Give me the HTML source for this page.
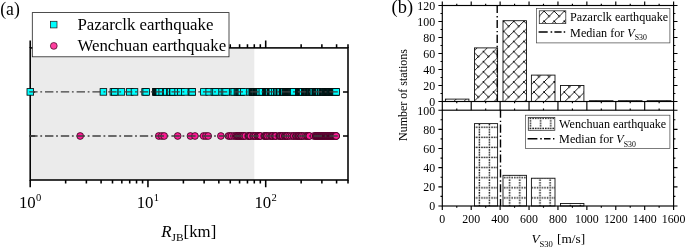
<!DOCTYPE html>
<html lang="en"><head><meta charset="utf-8"><title>Figure</title>
<style>html,body{margin:0;padding:0;background:#fff}body{width:685px;height:248px;overflow:hidden}</style>
</head><body>
<svg width="685" height="248" viewBox="0 0 685 248" style="display:block">
<rect x="30.2" y="47.9" width="224.09" height="132.1" fill="#ebebeb"/>
<rect x="30.2" y="47.9" width="317.8" height="132.1" fill="none" stroke="#000" stroke-width="1.55"/>
<path d="M30.20 180.0 v7.3 M30.20 47.9 v-7.3 M65.65 180.0 v3.6 M65.65 47.9 v-3.6 M86.38 180.0 v3.6 M86.38 47.9 v-3.6 M101.09 180.0 v3.6 M101.09 47.9 v-3.6 M112.50 180.0 v3.6 M112.50 47.9 v-3.6 M121.83 180.0 v3.6 M121.83 47.9 v-3.6 M129.71 180.0 v3.6 M129.71 47.9 v-3.6 M136.54 180.0 v3.6 M136.54 47.9 v-3.6 M142.56 180.0 v3.6 M142.56 47.9 v-3.6 M147.95 180.0 v7.3 M147.95 47.9 v-7.3 M183.39 180.0 v3.6 M183.39 47.9 v-3.6 M204.13 180.0 v3.6 M204.13 47.9 v-3.6 M218.84 180.0 v3.6 M218.84 47.9 v-3.6 M230.25 180.0 v3.6 M230.25 47.9 v-3.6 M239.57 180.0 v3.6 M239.57 47.9 v-3.6 M247.46 180.0 v3.6 M247.46 47.9 v-3.6 M254.29 180.0 v3.6 M254.29 47.9 v-3.6 M260.31 180.0 v3.6 M260.31 47.9 v-3.6 M265.70 180.0 v7.3 M265.70 47.9 v-7.3 M301.14 180.0 v3.6 M301.14 47.9 v-3.6 M321.88 180.0 v3.6 M321.88 47.9 v-3.6 M336.59 180.0 v3.6 M336.59 47.9 v-3.6 M348.00 180.0 v3.6 M348.00 47.9 v-3.6 M348.0 91.9 h-5 M30.2 91.9 h5 M348.0 136.0 h-5 M30.2 136.0 h5" stroke="#000" stroke-width="1.55" fill="none"/>
<g fill="#00ffff" stroke="#000" stroke-width="0.8"><rect x="27.00" y="88.60" width="6.6" height="6.6"/><rect x="100.10" y="88.60" width="6.6" height="6.6"/><rect x="110.10" y="88.60" width="6.6" height="6.6"/><rect x="111.40" y="88.60" width="6.6" height="6.6"/><rect x="118.10" y="88.60" width="6.6" height="6.6"/><rect x="126.40" y="88.60" width="6.6" height="6.6"/><rect x="131.20" y="88.60" width="6.6" height="6.6"/><rect x="141.80" y="88.60" width="6.6" height="6.6"/><rect x="142.90" y="88.60" width="6.6" height="6.6"/><rect x="152.50" y="88.60" width="6.6" height="6.6"/><rect x="153.00" y="88.60" width="6.6" height="6.6"/><rect x="153.50" y="88.60" width="6.6" height="6.6"/><rect x="154.00" y="88.60" width="6.6" height="6.6"/><rect x="154.50" y="88.60" width="6.6" height="6.6"/><rect x="155.00" y="88.60" width="6.6" height="6.6"/><rect x="155.50" y="88.60" width="6.6" height="6.6"/><rect x="156.00" y="88.60" width="6.6" height="6.6"/><rect x="158.90" y="88.60" width="6.6" height="6.6"/><rect x="162.60" y="88.60" width="6.6" height="6.6"/><rect x="163.60" y="88.60" width="6.6" height="6.6"/><rect x="166.60" y="88.60" width="6.6" height="6.6"/><rect x="167.30" y="88.60" width="6.6" height="6.6"/><rect x="169.40" y="88.60" width="6.6" height="6.6"/><rect x="169.90" y="88.60" width="6.6" height="6.6"/><rect x="174.80" y="88.60" width="6.6" height="6.6"/><rect x="177.60" y="88.60" width="6.6" height="6.6"/><rect x="181.60" y="88.60" width="6.6" height="6.6"/><rect x="188.20" y="88.60" width="6.6" height="6.6"/><rect x="189.00" y="88.60" width="6.6" height="6.6"/><rect x="200.60" y="88.60" width="6.6" height="6.6"/><rect x="205.90" y="88.60" width="6.6" height="6.6"/><rect x="211.10" y="88.60" width="6.6" height="6.6"/><rect x="212.70" y="88.60" width="6.6" height="6.6"/><rect x="218.80" y="88.60" width="6.6" height="6.6"/><rect x="221.20" y="88.60" width="6.6" height="6.6"/><rect x="222.80" y="88.60" width="6.6" height="6.6"/><rect x="229.30" y="88.60" width="6.6" height="6.6"/><rect x="230.90" y="88.60" width="6.6" height="6.6"/><rect x="234.10" y="88.60" width="6.6" height="6.6"/><rect x="234.90" y="88.60" width="6.6" height="6.6"/><rect x="235.70" y="88.60" width="6.6" height="6.6"/><rect x="236.50" y="88.60" width="6.6" height="6.6"/><rect x="237.30" y="88.60" width="6.6" height="6.6"/><rect x="238.10" y="88.60" width="6.6" height="6.6"/><rect x="240.60" y="88.60" width="6.6" height="6.6"/><rect x="246.80" y="88.60" width="6.6" height="6.6"/><rect x="248.96" y="88.60" width="6.6" height="6.6"/><rect x="249.32" y="88.60" width="6.6" height="6.6"/><rect x="249.68" y="88.60" width="6.6" height="6.6"/><rect x="250.04" y="88.60" width="6.6" height="6.6"/><rect x="250.40" y="88.60" width="6.6" height="6.6"/><rect x="250.76" y="88.60" width="6.6" height="6.6"/><rect x="251.12" y="88.60" width="6.6" height="6.6"/><rect x="251.48" y="88.60" width="6.6" height="6.6"/><rect x="251.84" y="88.60" width="6.6" height="6.6"/><rect x="252.20" y="88.60" width="6.6" height="6.6"/><rect x="252.92" y="88.60" width="6.6" height="6.6"/><rect x="253.28" y="88.60" width="6.6" height="6.6"/><rect x="253.64" y="88.60" width="6.6" height="6.6"/><rect x="254.00" y="88.60" width="6.6" height="6.6"/><rect x="254.36" y="88.60" width="6.6" height="6.6"/><rect x="254.72" y="88.60" width="6.6" height="6.6"/><rect x="255.08" y="88.60" width="6.6" height="6.6"/><rect x="255.44" y="88.60" width="6.6" height="6.6"/><rect x="256.52" y="88.60" width="6.6" height="6.6"/><rect x="256.88" y="88.60" width="6.6" height="6.6"/><rect x="259.04" y="88.60" width="6.6" height="6.6"/><rect x="262.64" y="88.60" width="6.6" height="6.6"/><rect x="263.00" y="88.60" width="6.6" height="6.6"/><rect x="263.36" y="88.60" width="6.6" height="6.6"/><rect x="263.72" y="88.60" width="6.6" height="6.6"/><rect x="264.08" y="88.60" width="6.6" height="6.6"/><rect x="264.44" y="88.60" width="6.6" height="6.6"/><rect x="264.80" y="88.60" width="6.6" height="6.6"/><rect x="265.16" y="88.60" width="6.6" height="6.6"/><rect x="265.52" y="88.60" width="6.6" height="6.6"/><rect x="265.88" y="88.60" width="6.6" height="6.6"/><rect x="267.32" y="88.60" width="6.6" height="6.6"/><rect x="267.68" y="88.60" width="6.6" height="6.6"/><rect x="268.04" y="88.60" width="6.6" height="6.6"/><rect x="268.40" y="88.60" width="6.6" height="6.6"/><rect x="268.76" y="88.60" width="6.6" height="6.6"/><rect x="269.12" y="88.60" width="6.6" height="6.6"/><rect x="271.64" y="88.60" width="6.6" height="6.6"/><rect x="273.44" y="88.60" width="6.6" height="6.6"/><rect x="273.80" y="88.60" width="6.6" height="6.6"/><rect x="274.16" y="88.60" width="6.6" height="6.6"/><rect x="275.96" y="88.60" width="6.6" height="6.6"/><rect x="276.32" y="88.60" width="6.6" height="6.6"/><rect x="276.68" y="88.60" width="6.6" height="6.6"/><rect x="277.04" y="88.60" width="6.6" height="6.6"/><rect x="279.20" y="88.60" width="6.6" height="6.6"/><rect x="279.56" y="88.60" width="6.6" height="6.6"/><rect x="279.92" y="88.60" width="6.6" height="6.6"/><rect x="280.28" y="88.60" width="6.6" height="6.6"/><rect x="280.64" y="88.60" width="6.6" height="6.6"/><rect x="281.00" y="88.60" width="6.6" height="6.6"/><rect x="282.44" y="88.60" width="6.6" height="6.6"/><rect x="282.80" y="88.60" width="6.6" height="6.6"/><rect x="283.16" y="88.60" width="6.6" height="6.6"/><rect x="283.52" y="88.60" width="6.6" height="6.6"/><rect x="283.88" y="88.60" width="6.6" height="6.6"/><rect x="284.60" y="88.60" width="6.6" height="6.6"/><rect x="284.96" y="88.60" width="6.6" height="6.6"/><rect x="285.32" y="88.60" width="6.6" height="6.6"/><rect x="285.68" y="88.60" width="6.6" height="6.6"/><rect x="286.04" y="88.60" width="6.6" height="6.6"/><rect x="286.40" y="88.60" width="6.6" height="6.6"/><rect x="286.76" y="88.60" width="6.6" height="6.6"/><rect x="287.12" y="88.60" width="6.6" height="6.6"/><rect x="287.48" y="88.60" width="6.6" height="6.6"/><rect x="287.84" y="88.60" width="6.6" height="6.6"/><rect x="288.20" y="88.60" width="6.6" height="6.6"/><rect x="288.56" y="88.60" width="6.6" height="6.6"/><rect x="289.64" y="88.60" width="6.6" height="6.6"/><rect x="290.00" y="88.60" width="6.6" height="6.6"/><rect x="290.36" y="88.60" width="6.6" height="6.6"/><rect x="295.40" y="88.60" width="6.6" height="6.6"/><rect x="295.76" y="88.60" width="6.6" height="6.6"/><rect x="296.12" y="88.60" width="6.6" height="6.6"/><rect x="296.48" y="88.60" width="6.6" height="6.6"/><rect x="296.84" y="88.60" width="6.6" height="6.6"/><rect x="297.20" y="88.60" width="6.6" height="6.6"/><rect x="297.56" y="88.60" width="6.6" height="6.6"/><rect x="297.92" y="88.60" width="6.6" height="6.6"/><rect x="298.28" y="88.60" width="6.6" height="6.6"/><rect x="298.64" y="88.60" width="6.6" height="6.6"/><rect x="299.00" y="88.60" width="6.6" height="6.6"/><rect x="299.36" y="88.60" width="6.6" height="6.6"/><rect x="301.52" y="88.60" width="6.6" height="6.6"/><rect x="301.88" y="88.60" width="6.6" height="6.6"/><rect x="302.24" y="88.60" width="6.6" height="6.6"/><rect x="302.60" y="88.60" width="6.6" height="6.6"/><rect x="302.96" y="88.60" width="6.6" height="6.6"/><rect x="303.32" y="88.60" width="6.6" height="6.6"/><rect x="303.68" y="88.60" width="6.6" height="6.6"/><rect x="304.04" y="88.60" width="6.6" height="6.6"/><rect x="304.76" y="88.60" width="6.6" height="6.6"/><rect x="305.12" y="88.60" width="6.6" height="6.6"/><rect x="305.48" y="88.60" width="6.6" height="6.6"/><rect x="305.84" y="88.60" width="6.6" height="6.6"/><rect x="306.20" y="88.60" width="6.6" height="6.6"/><rect x="306.56" y="88.60" width="6.6" height="6.6"/><rect x="306.92" y="88.60" width="6.6" height="6.6"/><rect x="307.28" y="88.60" width="6.6" height="6.6"/><rect x="308.00" y="88.60" width="6.6" height="6.6"/><rect x="308.36" y="88.60" width="6.6" height="6.6"/><rect x="308.72" y="88.60" width="6.6" height="6.6"/><rect x="309.08" y="88.60" width="6.6" height="6.6"/><rect x="309.44" y="88.60" width="6.6" height="6.6"/><rect x="309.80" y="88.60" width="6.6" height="6.6"/><rect x="310.16" y="88.60" width="6.6" height="6.6"/><rect x="311.96" y="88.60" width="6.6" height="6.6"/><rect x="312.32" y="88.60" width="6.6" height="6.6"/><rect x="312.68" y="88.60" width="6.6" height="6.6"/><rect x="313.04" y="88.60" width="6.6" height="6.6"/><rect x="313.40" y="88.60" width="6.6" height="6.6"/><rect x="314.12" y="88.60" width="6.6" height="6.6"/><rect x="314.48" y="88.60" width="6.6" height="6.6"/><rect x="314.84" y="88.60" width="6.6" height="6.6"/><rect x="315.20" y="88.60" width="6.6" height="6.6"/><rect x="315.56" y="88.60" width="6.6" height="6.6"/><rect x="315.92" y="88.60" width="6.6" height="6.6"/><rect x="317.36" y="88.60" width="6.6" height="6.6"/><rect x="317.72" y="88.60" width="6.6" height="6.6"/><rect x="318.08" y="88.60" width="6.6" height="6.6"/><rect x="319.52" y="88.60" width="6.6" height="6.6"/><rect x="319.88" y="88.60" width="6.6" height="6.6"/><rect x="320.24" y="88.60" width="6.6" height="6.6"/><rect x="320.60" y="88.60" width="6.6" height="6.6"/><rect x="320.96" y="88.60" width="6.6" height="6.6"/><rect x="321.32" y="88.60" width="6.6" height="6.6"/><rect x="321.68" y="88.60" width="6.6" height="6.6"/><rect x="322.40" y="88.60" width="6.6" height="6.6"/><rect x="322.76" y="88.60" width="6.6" height="6.6"/><rect x="323.12" y="88.60" width="6.6" height="6.6"/><rect x="323.48" y="88.60" width="6.6" height="6.6"/><rect x="323.84" y="88.60" width="6.6" height="6.6"/><rect x="324.20" y="88.60" width="6.6" height="6.6"/><rect x="324.56" y="88.60" width="6.6" height="6.6"/><rect x="324.92" y="88.60" width="6.6" height="6.6"/><rect x="325.28" y="88.60" width="6.6" height="6.6"/><rect x="325.64" y="88.60" width="6.6" height="6.6"/><rect x="326.00" y="88.60" width="6.6" height="6.6"/><rect x="326.36" y="88.60" width="6.6" height="6.6"/><rect x="326.72" y="88.60" width="6.6" height="6.6"/><rect x="327.08" y="88.60" width="6.6" height="6.6"/><rect x="327.44" y="88.60" width="6.6" height="6.6"/><rect x="328.16" y="88.60" width="6.6" height="6.6"/><rect x="328.52" y="88.60" width="6.6" height="6.6"/><rect x="328.88" y="88.60" width="6.6" height="6.6"/><rect x="329.24" y="88.60" width="6.6" height="6.6"/><rect x="329.60" y="88.60" width="6.6" height="6.6"/><rect x="329.96" y="88.60" width="6.6" height="6.6"/><rect x="330.32" y="88.60" width="6.6" height="6.6"/><rect x="330.68" y="88.60" width="6.6" height="6.6"/><rect x="331.04" y="88.60" width="6.6" height="6.6"/><rect x="331.40" y="88.60" width="6.6" height="6.6"/><rect x="331.76" y="88.60" width="6.6" height="6.6"/><rect x="332.12" y="88.60" width="6.6" height="6.6"/><rect x="332.48" y="88.60" width="6.6" height="6.6"/><rect x="332.80" y="88.60" width="6.6" height="6.6"/></g>
<g fill="#ff1a94" stroke="#22000f" stroke-width="0.75"><circle cx="80.18" cy="136.0" r="3.4"/><circle cx="158.78" cy="136.0" r="3.4"/><circle cx="161.78" cy="136.0" r="3.4"/><circle cx="164.18" cy="136.0" r="3.4"/><circle cx="177.68" cy="136.0" r="3.4"/><circle cx="190.47" cy="136.0" r="3.4"/><circle cx="194.97" cy="136.0" r="3.4"/><circle cx="203.58" cy="136.0" r="3.4"/><circle cx="205.97" cy="136.0" r="3.4"/><circle cx="208.18" cy="136.0" r="3.4"/><circle cx="220.88" cy="136.0" r="3.4"/><circle cx="228.38" cy="136.0" r="3.4"/><circle cx="229.97" cy="136.0" r="3.4"/><circle cx="231.58" cy="136.0" r="3.4"/><circle cx="233.97" cy="136.0" r="3.4"/><circle cx="235.68" cy="136.0" r="3.4"/><circle cx="236.78" cy="136.0" r="3.4"/><circle cx="237.38" cy="136.0" r="3.4"/><circle cx="237.97" cy="136.0" r="3.4"/><circle cx="238.57" cy="136.0" r="3.4"/><circle cx="239.17" cy="136.0" r="3.4"/><circle cx="239.77" cy="136.0" r="3.4"/><circle cx="240.37" cy="136.0" r="3.4"/><circle cx="240.97" cy="136.0" r="3.4"/><circle cx="241.57" cy="136.0" r="3.4"/><circle cx="242.17" cy="136.0" r="3.4"/><circle cx="242.77" cy="136.0" r="3.4"/><circle cx="243.37" cy="136.0" r="3.4"/><circle cx="243.97" cy="136.0" r="3.4"/><circle cx="245.28" cy="136.0" r="3.4"/><circle cx="248.18" cy="136.0" r="3.4"/><circle cx="248.78" cy="136.0" r="3.4"/><circle cx="249.38" cy="136.0" r="3.4"/><circle cx="249.97" cy="136.0" r="3.4"/><circle cx="250.57" cy="136.0" r="3.4"/><circle cx="253.04" cy="136.0" r="3.4"/><circle cx="253.66" cy="136.0" r="3.4"/><circle cx="254.90" cy="136.0" r="3.4"/><circle cx="255.52" cy="136.0" r="3.4"/><circle cx="257.38" cy="136.0" r="3.4"/><circle cx="258.00" cy="136.0" r="3.4"/><circle cx="258.62" cy="136.0" r="3.4"/><circle cx="259.24" cy="136.0" r="3.4"/><circle cx="259.86" cy="136.0" r="3.4"/><circle cx="260.48" cy="136.0" r="3.4"/><circle cx="264.20" cy="136.0" r="3.4"/><circle cx="264.82" cy="136.0" r="3.4"/><circle cx="265.44" cy="136.0" r="3.4"/><circle cx="266.06" cy="136.0" r="3.4"/><circle cx="266.68" cy="136.0" r="3.4"/><circle cx="267.30" cy="136.0" r="3.4"/><circle cx="269.16" cy="136.0" r="3.4"/><circle cx="271.02" cy="136.0" r="3.4"/><circle cx="271.64" cy="136.0" r="3.4"/><circle cx="272.26" cy="136.0" r="3.4"/><circle cx="272.88" cy="136.0" r="3.4"/><circle cx="274.74" cy="136.0" r="3.4"/><circle cx="275.36" cy="136.0" r="3.4"/><circle cx="275.98" cy="136.0" r="3.4"/><circle cx="279.08" cy="136.0" r="3.4"/><circle cx="279.70" cy="136.0" r="3.4"/><circle cx="280.32" cy="136.0" r="3.4"/><circle cx="280.94" cy="136.0" r="3.4"/><circle cx="282.18" cy="136.0" r="3.4"/><circle cx="282.80" cy="136.0" r="3.4"/><circle cx="284.66" cy="136.0" r="3.4"/><circle cx="285.28" cy="136.0" r="3.4"/><circle cx="285.90" cy="136.0" r="3.4"/><circle cx="286.52" cy="136.0" r="3.4"/><circle cx="287.14" cy="136.0" r="3.4"/><circle cx="287.76" cy="136.0" r="3.4"/><circle cx="289.62" cy="136.0" r="3.4"/><circle cx="291.48" cy="136.0" r="3.4"/><circle cx="293.34" cy="136.0" r="3.4"/><circle cx="293.96" cy="136.0" r="3.4"/><circle cx="295.82" cy="136.0" r="3.4"/><circle cx="296.44" cy="136.0" r="3.4"/><circle cx="297.68" cy="136.0" r="3.4"/><circle cx="298.30" cy="136.0" r="3.4"/><circle cx="298.92" cy="136.0" r="3.4"/><circle cx="299.54" cy="136.0" r="3.4"/><circle cx="300.78" cy="136.0" r="3.4"/><circle cx="301.40" cy="136.0" r="3.4"/><circle cx="302.02" cy="136.0" r="3.4"/><circle cx="303.88" cy="136.0" r="3.4"/><circle cx="305.74" cy="136.0" r="3.4"/><circle cx="306.98" cy="136.0" r="3.4"/><circle cx="307.60" cy="136.0" r="3.4"/><circle cx="308.22" cy="136.0" r="3.4"/><circle cx="308.84" cy="136.0" r="3.4"/><circle cx="309.46" cy="136.0" r="3.4"/><circle cx="313.80" cy="136.0" r="3.4"/><circle cx="315.66" cy="136.0" r="3.4"/><circle cx="315.77" cy="136.0" r="3.4"/><circle cx="316.17" cy="136.0" r="3.4"/><circle cx="316.57" cy="136.0" r="3.4"/><circle cx="316.97" cy="136.0" r="3.4"/><circle cx="317.37" cy="136.0" r="3.4"/><circle cx="317.77" cy="136.0" r="3.4"/><circle cx="318.17" cy="136.0" r="3.4"/><circle cx="318.57" cy="136.0" r="3.4"/><circle cx="318.97" cy="136.0" r="3.4"/><circle cx="319.37" cy="136.0" r="3.4"/><circle cx="319.77" cy="136.0" r="3.4"/><circle cx="320.17" cy="136.0" r="3.4"/><circle cx="320.57" cy="136.0" r="3.4"/><circle cx="320.97" cy="136.0" r="3.4"/><circle cx="321.37" cy="136.0" r="3.4"/><circle cx="321.77" cy="136.0" r="3.4"/><circle cx="322.17" cy="136.0" r="3.4"/><circle cx="322.57" cy="136.0" r="3.4"/><circle cx="322.97" cy="136.0" r="3.4"/><circle cx="323.37" cy="136.0" r="3.4"/><circle cx="323.77" cy="136.0" r="3.4"/><circle cx="324.17" cy="136.0" r="3.4"/><circle cx="324.57" cy="136.0" r="3.4"/><circle cx="324.97" cy="136.0" r="3.4"/><circle cx="325.37" cy="136.0" r="3.4"/><circle cx="325.77" cy="136.0" r="3.4"/><circle cx="326.17" cy="136.0" r="3.4"/><circle cx="326.57" cy="136.0" r="3.4"/><circle cx="326.97" cy="136.0" r="3.4"/><circle cx="327.37" cy="136.0" r="3.4"/><circle cx="327.77" cy="136.0" r="3.4"/><circle cx="328.17" cy="136.0" r="3.4"/><circle cx="328.57" cy="136.0" r="3.4"/><circle cx="328.97" cy="136.0" r="3.4"/><circle cx="329.37" cy="136.0" r="3.4"/><circle cx="329.77" cy="136.0" r="3.4"/><circle cx="330.17" cy="136.0" r="3.4"/><circle cx="330.57" cy="136.0" r="3.4"/><circle cx="330.97" cy="136.0" r="3.4"/><circle cx="331.37" cy="136.0" r="3.4"/><circle cx="331.77" cy="136.0" r="3.4"/><circle cx="332.17" cy="136.0" r="3.4"/><circle cx="332.57" cy="136.0" r="3.4"/><circle cx="332.97" cy="136.0" r="3.4"/><circle cx="333.37" cy="136.0" r="3.4"/><circle cx="333.77" cy="136.0" r="3.4"/><circle cx="334.17" cy="136.0" r="3.4"/><circle cx="334.57" cy="136.0" r="3.4"/><circle cx="334.97" cy="136.0" r="3.4"/><circle cx="335.37" cy="136.0" r="3.4"/><circle cx="335.77" cy="136.0" r="3.4"/><circle cx="336.17" cy="136.0" r="3.4"/><circle cx="336.17" cy="136.0" r="3.4"/></g>
<line x1="29.2" y1="91.9" x2="339.2" y2="91.9" stroke="#404040" stroke-width="1.4" stroke-dasharray="8.4 2.7 1.8 2.9"/>
<line x1="29.2" y1="136.0" x2="339.2" y2="136.0" stroke="#404040" stroke-width="1.4" stroke-dasharray="8.4 2.7 1.8 2.9"/>
<text x="35.70" y="208.1" text-anchor="end" font-family="Liberation Serif, Times New Roman, serif" font-size="16.8">10</text>
<text x="36.10" y="201.4" font-family="Liberation Serif, Times New Roman, serif" font-size="10.6">0</text>
<text x="153.45" y="208.1" text-anchor="end" font-family="Liberation Serif, Times New Roman, serif" font-size="16.8">10</text>
<text x="153.85" y="201.4" font-family="Liberation Serif, Times New Roman, serif" font-size="10.6">1</text>
<text x="271.20" y="208.1" text-anchor="end" font-family="Liberation Serif, Times New Roman, serif" font-size="16.8">10</text>
<text x="271.60" y="201.4" font-family="Liberation Serif, Times New Roman, serif" font-size="10.6">2</text>
<text x="161.3" y="236.6" font-family="Liberation Serif, Times New Roman, serif" font-size="16.8"><tspan font-style="italic">R</tspan><tspan dy="3.9" font-size="11.4">JB</tspan><tspan dy="-3.9">[km]</tspan></text>
<rect x="32.3" y="12.6" width="196.7" height="44.2" fill="#fff" stroke="#222" stroke-width="0.8"/>
<rect x="50.4" y="21.3" width="6.6" height="6.6" fill="#00ffff" stroke="#222" stroke-width="0.75"/>
<circle cx="53.8" cy="45.9" r="3.4" fill="#ff3f9f" stroke="#3a0420" stroke-width="0.7"/>
<text x="77.4" y="29.9" font-family="Liberation Serif, Times New Roman, serif" font-size="16.85">Pazarclk earthquake</text>
<text x="77.4" y="51.2" font-family="Liberation Serif, Times New Roman, serif" font-size="16.85">Wenchuan earthquake</text>
<text transform="translate(0.2 14.9) scale(0.92 1)" font-family="Liberation Serif, Times New Roman, serif" font-size="19.2">(a)</text>
<defs>
<pattern id="brick" patternUnits="userSpaceOnUse" x="-1.30" y="1.10" width="10.1" height="10.1">
<path d="M0 10.1 L10.1 0 M0 0 L5.05 5.05 M-10.1 10.1 L0 0" stroke="#000" stroke-width="0.9" fill="none"/>
<circle cx="0" cy="0" r="0.9"/><circle cx="10.1" cy="0" r="0.9"/><circle cx="0" cy="10.1" r="0.9"/><circle cx="10.1" cy="10.1" r="0.9"/><circle cx="5.05" cy="5.05" r="0.9"/>
</pattern>
<pattern id="dots" patternUnits="userSpaceOnUse" x="-26.863" y="24.938" width="10.1" height="10.1">
<rect x="0.562" y="0.562" width="1.4" height="1.4"/><rect x="3.087" y="0.562" width="1.4" height="1.4"/><rect x="0.562" y="3.087" width="1.4" height="1.4"/><rect x="5.612" y="0.562" width="1.4" height="1.4"/><rect x="0.562" y="5.612" width="1.4" height="1.4"/><rect x="8.137" y="0.562" width="1.4" height="1.4"/><rect x="0.562" y="8.137" width="1.4" height="1.4"/>
</pattern>
<pattern id="dots2" patternUnits="userSpaceOnUse" x="-26.163" y="26.138" width="10.1" height="10.1">
<rect x="0.562" y="0.562" width="1.4" height="1.4"/><rect x="3.087" y="0.562" width="1.4" height="1.4"/><rect x="0.562" y="3.087" width="1.4" height="1.4"/><rect x="5.612" y="0.562" width="1.4" height="1.4"/><rect x="0.562" y="5.612" width="1.4" height="1.4"/><rect x="8.137" y="0.562" width="1.4" height="1.4"/><rect x="0.562" y="8.137" width="1.4" height="1.4"/>
</pattern>
</defs>
<rect x="445.40" y="99.10" width="23.50" height="2.40" fill="url(#brick)" stroke="#111" stroke-width="0.9"/>
<rect x="474.50" y="47.90" width="23.10" height="53.60" fill="url(#brick)" stroke="#111" stroke-width="0.9"/>
<rect x="503.00" y="20.70" width="23.50" height="80.80" fill="url(#brick)" stroke="#111" stroke-width="0.9"/>
<rect x="531.40" y="75.10" width="23.60" height="26.40" fill="url(#brick)" stroke="#111" stroke-width="0.9"/>
<rect x="560.50" y="85.50" width="23.40" height="16.00" fill="url(#brick)" stroke="#111" stroke-width="0.9"/>
<rect x="589.40" y="100.70" width="23.60" height="0.80" fill="url(#brick)" stroke="#111" stroke-width="0.9"/>
<rect x="618.40" y="100.70" width="23.60" height="0.80" fill="url(#brick)" stroke="#111" stroke-width="0.9"/>
<rect x="647.20" y="100.70" width="23.80" height="0.80" fill="url(#brick)" stroke="#111" stroke-width="0.9"/>
<rect x="474.50" y="123.61" width="23.10" height="82.39" fill="url(#dots)" stroke="#111" stroke-width="0.9"/>
<rect x="503.00" y="175.34" width="23.50" height="30.66" fill="url(#dots)" stroke="#111" stroke-width="0.9"/>
<rect x="531.40" y="178.22" width="23.60" height="27.78" fill="url(#dots)" stroke="#111" stroke-width="0.9"/>
<rect x="560.50" y="203.51" width="23.40" height="2.49" fill="url(#dots)" stroke="#111" stroke-width="0.9"/>
<line x1="497.2" y1="5.0" x2="497.2" y2="101.5" stroke="#000" stroke-width="1.4" stroke-dasharray="8.1 2.9 1.4 2.5"/>
<line x1="500.5" y1="109.7" x2="500.5" y2="206.0" stroke="#000" stroke-width="1.4" stroke-dasharray="8.1 2.9 1.4 2.5"/>
<rect x="442.3" y="5.5" width="231.30" height="96.00" fill="none" stroke="#000" stroke-width="1.15"/>
<rect x="442.3" y="110.2" width="231.30" height="95.80" fill="none" stroke="#000" stroke-width="1.15"/>
<path d="M442.30 5.5 v-3.9 M442.30 101.5 v4.6 M442.30 110.2 v-4.6 M442.30 206.0 v3.9 M456.76 5.5 v-1.8 M456.76 101.5 v1.8 M456.76 110.2 v-1.8 M456.76 206.0 v1.8 M471.21 5.5 v-3.9 M471.21 101.5 v4.6 M471.21 110.2 v-4.6 M471.21 206.0 v3.9 M485.67 5.5 v-1.8 M485.67 101.5 v1.8 M485.67 110.2 v-1.8 M485.67 206.0 v1.8 M500.12 5.5 v-3.9 M500.12 101.5 v4.6 M500.12 110.2 v-4.6 M500.12 206.0 v3.9 M514.58 5.5 v-1.8 M514.58 101.5 v1.8 M514.58 110.2 v-1.8 M514.58 206.0 v1.8 M529.04 5.5 v-3.9 M529.04 101.5 v4.6 M529.04 110.2 v-4.6 M529.04 206.0 v3.9 M543.49 5.5 v-1.8 M543.49 101.5 v1.8 M543.49 110.2 v-1.8 M543.49 206.0 v1.8 M557.95 5.5 v-3.9 M557.95 101.5 v4.6 M557.95 110.2 v-4.6 M557.95 206.0 v3.9 M572.41 5.5 v-1.8 M572.41 101.5 v1.8 M572.41 110.2 v-1.8 M572.41 206.0 v1.8 M586.86 5.5 v-3.9 M586.86 101.5 v4.6 M586.86 110.2 v-4.6 M586.86 206.0 v3.9 M601.32 5.5 v-1.8 M601.32 101.5 v1.8 M601.32 110.2 v-1.8 M601.32 206.0 v1.8 M615.78 5.5 v-3.9 M615.78 101.5 v4.6 M615.78 110.2 v-4.6 M615.78 206.0 v3.9 M630.23 5.5 v-1.8 M630.23 101.5 v1.8 M630.23 110.2 v-1.8 M630.23 206.0 v1.8 M644.69 5.5 v-3.9 M644.69 101.5 v4.6 M644.69 110.2 v-4.6 M644.69 206.0 v3.9 M659.14 5.5 v-1.8 M659.14 101.5 v1.8 M659.14 110.2 v-1.8 M659.14 206.0 v1.8 M673.60 5.5 v-3.9 M673.60 101.5 v4.6 M673.60 110.2 v-4.6 M673.60 206.0 v3.9 M442.3 101.50 h-3.9 M673.6 101.50 h3.9 M442.3 93.50 h-1.8 M673.6 93.50 h1.8 M442.3 85.50 h-3.9 M673.6 85.50 h3.9 M442.3 77.50 h-1.8 M673.6 77.50 h1.8 M442.3 69.50 h-3.9 M673.6 69.50 h3.9 M442.3 61.50 h-1.8 M673.6 61.50 h1.8 M442.3 53.50 h-3.9 M673.6 53.50 h3.9 M442.3 45.50 h-1.8 M673.6 45.50 h1.8 M442.3 37.50 h-3.9 M673.6 37.50 h3.9 M442.3 29.50 h-1.8 M673.6 29.50 h1.8 M442.3 21.50 h-3.9 M673.6 21.50 h3.9 M442.3 13.50 h-1.8 M673.6 13.50 h1.8 M442.3 5.50 h-3.9 M673.6 5.50 h3.9 M442.3 206.00 h-3.9 M673.6 206.00 h3.9 M442.3 196.42 h-1.8 M673.6 196.42 h1.8 M442.3 186.84 h-3.9 M673.6 186.84 h3.9 M442.3 177.26 h-1.8 M673.6 177.26 h1.8 M442.3 167.68 h-3.9 M673.6 167.68 h3.9 M442.3 158.10 h-1.8 M673.6 158.10 h1.8 M442.3 148.52 h-3.9 M673.6 148.52 h3.9 M442.3 138.94 h-1.8 M673.6 138.94 h1.8 M442.3 129.36 h-3.9 M673.6 129.36 h3.9 M442.3 119.78 h-1.8 M673.6 119.78 h1.8 M442.3 110.20 h-3.9 M673.6 110.20 h3.9" stroke="#000" stroke-width="1.15" fill="none"/>
<text transform="translate(435.2 105.95) scale(1 1.11)" text-anchor="end" font-family="Liberation Serif, Times New Roman, serif" font-size="11.9">0</text>
<text transform="translate(435.2 89.95) scale(1 1.11)" text-anchor="end" font-family="Liberation Serif, Times New Roman, serif" font-size="11.9">20</text>
<text transform="translate(435.2 73.95) scale(1 1.11)" text-anchor="end" font-family="Liberation Serif, Times New Roman, serif" font-size="11.9">40</text>
<text transform="translate(435.2 57.95) scale(1 1.11)" text-anchor="end" font-family="Liberation Serif, Times New Roman, serif" font-size="11.9">60</text>
<text transform="translate(435.2 41.95) scale(1 1.11)" text-anchor="end" font-family="Liberation Serif, Times New Roman, serif" font-size="11.9">80</text>
<text transform="translate(435.2 25.95) scale(1 1.11)" text-anchor="end" font-family="Liberation Serif, Times New Roman, serif" font-size="11.9">100</text>
<text transform="translate(435.2 9.95) scale(1 1.11)" text-anchor="end" font-family="Liberation Serif, Times New Roman, serif" font-size="11.9">120</text>
<text transform="translate(435.2 210.45) scale(1 1.11)" text-anchor="end" font-family="Liberation Serif, Times New Roman, serif" font-size="11.9">0</text>
<text transform="translate(435.2 191.29) scale(1 1.11)" text-anchor="end" font-family="Liberation Serif, Times New Roman, serif" font-size="11.9">20</text>
<text transform="translate(435.2 172.13) scale(1 1.11)" text-anchor="end" font-family="Liberation Serif, Times New Roman, serif" font-size="11.9">40</text>
<text transform="translate(435.2 152.97) scale(1 1.11)" text-anchor="end" font-family="Liberation Serif, Times New Roman, serif" font-size="11.9">60</text>
<text transform="translate(435.2 133.81) scale(1 1.11)" text-anchor="end" font-family="Liberation Serif, Times New Roman, serif" font-size="11.9">80</text>
<text transform="translate(435.2 114.65) scale(1 1.11)" text-anchor="end" font-family="Liberation Serif, Times New Roman, serif" font-size="11.9">100</text>
<text transform="translate(442.30 222.6) scale(1 1.11)" text-anchor="middle" font-family="Liberation Serif, Times New Roman, serif" font-size="11.9">0</text>
<text transform="translate(471.21 222.6) scale(1 1.11)" text-anchor="middle" font-family="Liberation Serif, Times New Roman, serif" font-size="11.9">200</text>
<text transform="translate(500.12 222.6) scale(1 1.11)" text-anchor="middle" font-family="Liberation Serif, Times New Roman, serif" font-size="11.9">400</text>
<text transform="translate(529.04 222.6) scale(1 1.11)" text-anchor="middle" font-family="Liberation Serif, Times New Roman, serif" font-size="11.9">600</text>
<text transform="translate(557.95 222.6) scale(1 1.11)" text-anchor="middle" font-family="Liberation Serif, Times New Roman, serif" font-size="11.9">800</text>
<text transform="translate(586.86 222.6) scale(1 1.11)" text-anchor="middle" font-family="Liberation Serif, Times New Roman, serif" font-size="11.9">1000</text>
<text transform="translate(615.78 222.6) scale(1 1.11)" text-anchor="middle" font-family="Liberation Serif, Times New Roman, serif" font-size="11.9">1200</text>
<text transform="translate(644.69 222.6) scale(1 1.11)" text-anchor="middle" font-family="Liberation Serif, Times New Roman, serif" font-size="11.9">1400</text>
<text transform="translate(673.60 222.6) scale(1 1.11)" text-anchor="middle" font-family="Liberation Serif, Times New Roman, serif" font-size="11.9">1600</text>
<text x="531.4" y="242.9" font-family="Liberation Serif, Times New Roman, serif" font-size="13.3"><tspan font-style="italic">V</tspan><tspan dy="3.7" font-size="8.6">S30</tspan></text>
<text x="557.0" y="242.9" font-family="Liberation Serif, Times New Roman, serif" font-size="13.3">[m/s]</text>
<text transform="translate(407.0 141.0) rotate(-90)" font-family="Liberation Serif, Times New Roman, serif" font-size="12">Number of stations</text>
<text transform="translate(391.6 12.9) scale(0.96 1)" font-family="Liberation Serif, Times New Roman, serif" font-size="19.2">(b)</text>
<rect x="536.4" y="8.5" width="133.5" height="34.4" fill="#fff" stroke="#444" stroke-width="0.7"/>
<rect x="539.30" y="10.80" width="26.5" height="12.8" fill="url(#brick)" stroke="#333" stroke-width="0.8"/>
<path d="M538.6 32H547.7M550.6 32H552.2M554.4 32H561.6M563.7 32H565.2" stroke="#000" stroke-width="1.5" fill="none"/>
<text transform="translate(570.10 21.00) scale(1 1.06)" font-family="Liberation Serif, Times New Roman, serif" font-size="12.15">Pazarclk earthquake</text>
<text transform="translate(570.10 36.60) scale(1 1.06)" font-family="Liberation Serif, Times New Roman, serif" font-size="12.15">Median for <tspan font-style="italic">V</tspan><tspan dy="3.5" font-size="7.8">S30</tspan></text>
<rect x="525.4" y="115.2" width="144.5" height="33.3" fill="#fff" stroke="#444" stroke-width="0.7"/>
<rect x="528.30" y="117.50" width="26.5" height="12.8" fill="url(#dots2)" stroke="#333" stroke-width="0.8"/>
<path d="M527.6 138.8H537.4M540.2 138.8H541.8M544 138.8H550.5M553 138.8H554.4" stroke="#000" stroke-width="1.5" fill="none"/>
<text transform="translate(559.10 127.70) scale(1 1.06)" font-family="Liberation Serif, Times New Roman, serif" font-size="12.15">Wenchuan earthquake</text>
<text transform="translate(559.10 143.30) scale(1 1.06)" font-family="Liberation Serif, Times New Roman, serif" font-size="12.15">Median for <tspan font-style="italic">V</tspan><tspan dy="3.5" font-size="7.8">S30</tspan></text>
</svg>
</body></html>
